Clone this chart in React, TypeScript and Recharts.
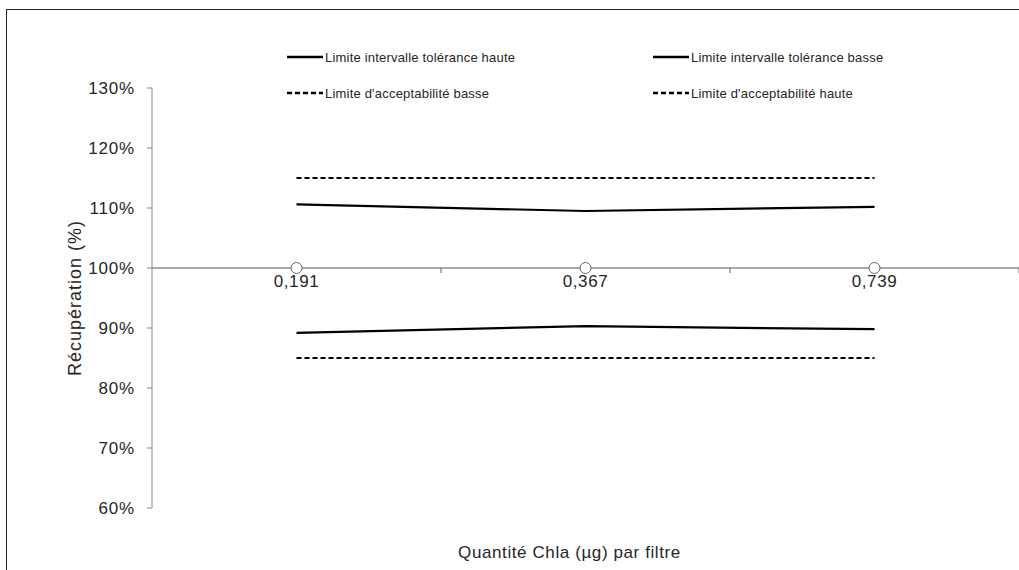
import React from "react"
import { LineChart, Line, XAxis, YAxis, Legend, ReferenceLine } from "recharts"

// values
const categories = ["0,191", "0,367", "0,739"]
const toleranceHigh = [110.6, 109.5, 110.2]
const toleranceLow = [89.2, 90.3, 89.8]
const acceptLow = [85, 85, 85]
const acceptHigh = [115, 115, 115]
const reference = [100, 100, 100]
const yTicks = [60, 70, 80, 90, 100, 110, 120, 130]
const legendOrder = [
  "Limite intervalle tolérance haute",
  "Limite intervalle tolérance basse",
  "Limite d'acceptabilité basse",
  "Limite d'acceptabilité haute",
]

const data = categories.map((cat, i) => ({
  cat,
  tolHigh: toleranceHigh[i],
  tolLow: toleranceLow[i],
  accLow: acceptLow[i],
  accHigh: acceptHigh[i],
  ref: reference[i],
}))

const W = 1019
const H = 570
const TOP = 88
const BOTTOM_AXIS = 62
const Y_AXIS_W = 152
const PLOT_H = H - TOP - BOTTOM_AXIS
const PLOT_W = W - Y_AXIS_W
const Y_MIN = 60
const Y_MAX = 130
const Y_CROSS = TOP + (PLOT_H * (Y_MAX - 100)) / (Y_MAX - Y_MIN)
const BAND = PLOT_W / categories.length

const font = "Arial, 'Liberation Sans', sans-serif"
const textColor = "#262626"

function CrossTick(props: any) {
  const { x, payload } = props
  return (
    <g>
      <text
        x={x}
        y={Y_CROSS + 19}
        textAnchor="middle"
        fontSize={17}
        letterSpacing={0.6}
        fill={textColor}
        fontFamily={font}
      >
        {payload.value}
      </text>
      <line x1={x + BAND / 2} x2={x + BAND / 2} y1={Y_CROSS} y2={Y_CROSS + 5} stroke="#666" />
    </g>
  )
}

function LegendGrid(props: any) {
  const items = (props.payload || [])
    .filter((p: any) => p.type !== "none")
    .sort((a: any, b: any) => legendOrder.indexOf(a.value) - legendOrder.indexOf(b.value))
  return (
    <div style={{ display: "grid", gridTemplateColumns: "366px 366px", rowGap: 20, fontFamily: font }}>
      {items.map((p: any, i: number) => (
        <div key={i} style={{ display: "flex", alignItems: "center", height: 16 }}>
          <svg width={36} height={4} style={{ marginRight: 2 }}>
            <line
              x1={0}
              x2={36}
              y1={2}
              y2={2}
              stroke="#000"
              strokeWidth={2.5}
              strokeDasharray={p.payload?.strokeDasharray}
            />
          </svg>
          <span style={{ fontSize: 13, letterSpacing: 0.2, color: textColor }}>{p.value}</span>
        </div>
      ))}
    </div>
  )
}

export default function App() {
  return (
    <div style={{ position: "absolute", left: 0, top: 0, width: W, height: H, background: "#fff", overflow: "hidden" }}>
      <div
        style={{
          position: "absolute",
          left: 6,
          top: 9,
          width: W,
          height: H,
          borderLeft: "1px solid #222",
          borderTop: "1px solid #222",
        }}
      />
      <LineChart width={W} height={H} data={data} margin={{ top: TOP, right: 0, bottom: 0, left: 0 }}>
        <YAxis
          width={Y_AXIS_W}
          domain={[Y_MIN, Y_MAX]}
          ticks={yTicks}
          tickFormatter={(v) => `${v}%`}
          stroke="#888"
          tickSize={5}
          tickMargin={12}
          tick={{ fontSize: 17, fill: textColor, fontFamily: font, letterSpacing: 0.8 }}
          label={{
            value: "Récupération (%)",
            angle: -90,
            position: "insideLeft",
            offset: 75,
            style: { fontSize: 18, letterSpacing: 1, fill: textColor, fontFamily: font, textAnchor: "middle" },
          }}
        />
        <XAxis
          dataKey="cat"
          height={BOTTOM_AXIS}
          axisLine={false}
          tickLine={false}
          padding={{ left: BAND / 2, right: BAND / 2 }}
          tick={<CrossTick />}
          label={{
            value: "Quantité Chla (µg) par filtre",
            position: "insideBottom",
            offset: 12,
            dx: -16,
            style: { fontSize: 17, letterSpacing: 0.6, fill: textColor, fontFamily: font },
          }}
        />
        <ReferenceLine y={100} stroke="#555" />
        <Legend
          verticalAlign="middle"
          align="center"
          layout="horizontal"
          content={<LegendGrid />}
          wrapperStyle={{ top: 49, left: 287, width: 740 }}
        />
        <Line dataKey="tolHigh" name="Limite intervalle tolérance haute" stroke="#000" strokeWidth={2.2} dot={false} isAnimationActive={false} />
        <Line dataKey="tolLow" name="Limite intervalle tolérance basse" stroke="#000" strokeWidth={2.2} dot={false} isAnimationActive={false} />
        <Line dataKey="accLow" name="Limite d'acceptabilité basse" stroke="#000" strokeWidth={2} strokeDasharray="5 3" dot={false} isAnimationActive={false} />
        <Line dataKey="accHigh" name="Limite d'acceptabilité haute" stroke="#000" strokeWidth={2} strokeDasharray="5 3" dot={false} isAnimationActive={false} />
        <Line
          dataKey="ref"
          stroke="none"
          legendType="none"
          dot={{ r: 5.5, fill: "#fff", stroke: "#666", strokeWidth: 1 }}
          activeDot={false}
          isAnimationActive={false}
        />
      </LineChart>
    </div>
  )
}
